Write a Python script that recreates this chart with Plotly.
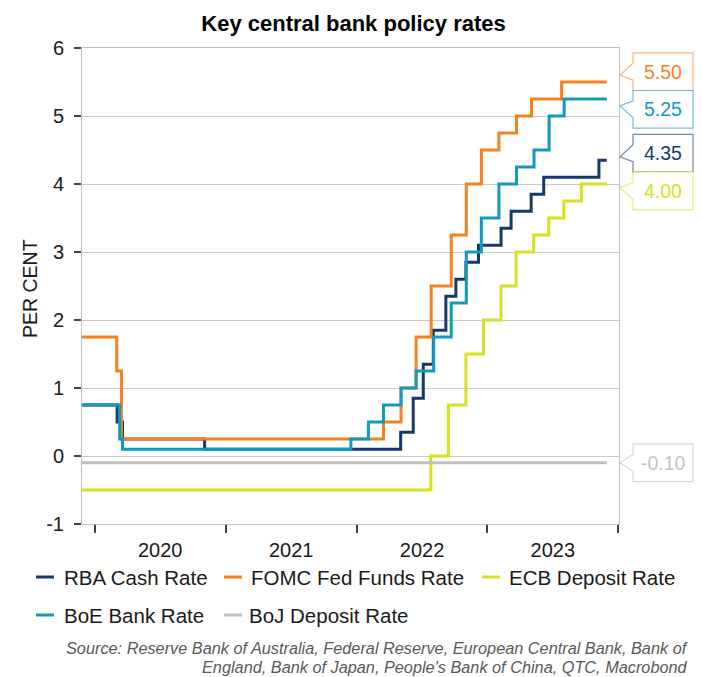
import plotly.graph_objects as go

# ---------------- data ----------------
rba_dates = ['2019-11-27', '2020-03-04', '2020-03-19', '2020-11-03', '2022-05-04', '2022-06-08',
             '2022-07-06', '2022-08-03', '2022-09-07', '2022-10-05', '2022-11-02', '2022-12-07',
             '2023-02-08', '2023-03-08', '2023-05-03', '2023-06-07', '2023-11-08', '2023-11-30']
rba_values = [0.75, 0.50, 0.25, 0.10, 0.35, 0.85, 1.35, 1.85, 2.35, 2.60, 2.85, 3.10,
              3.35, 3.60, 3.85, 4.10, 4.35, 4.35]

fomc_dates = ['2019-11-27', '2020-03-03', '2020-03-16', '2022-03-17', '2022-05-05', '2022-06-16',
              '2022-07-28', '2022-09-22', '2022-11-03', '2022-12-15', '2023-02-02', '2023-03-23',
              '2023-05-04', '2023-07-27', '2023-11-30']
fomc_values = [1.75, 1.25, 0.25, 0.50, 1.00, 1.75, 2.50, 3.25, 4.00, 4.50, 4.75, 5.00, 5.25, 5.50, 5.50]

ecb_dates = ['2019-11-27', '2022-07-27', '2022-09-14', '2022-11-02', '2022-12-21', '2023-02-08',
             '2023-03-22', '2023-05-10', '2023-06-21', '2023-08-02', '2023-09-20', '2023-11-30']
ecb_values = [-0.50, 0.00, 0.75, 1.50, 2.00, 2.50, 3.00, 3.25, 3.50, 3.75, 4.00, 4.00]

boe_dates = ['2019-11-27', '2020-03-11', '2020-03-19', '2021-12-16', '2022-02-03', '2022-03-17',
             '2022-05-05', '2022-06-16', '2022-08-04', '2022-09-22', '2022-11-03', '2022-12-15',
             '2023-02-02', '2023-03-23', '2023-05-11', '2023-06-22', '2023-08-03', '2023-11-30']
boe_values = [0.75, 0.25, 0.10, 0.25, 0.50, 0.75, 1.00, 1.25, 1.75, 2.25, 3.00, 3.50,
              4.00, 4.25, 4.50, 5.00, 5.25, 5.25]

boj_dates = ['2019-11-27', '2023-11-30']
boj_values = [-0.10, -0.10]

series_names = ['RBA Cash Rate', 'FOMC Fed Funds Rate', 'ECB Deposit Rate', 'BoE Bank Rate', 'BoJ Deposit Rate']
year_ticks = ['2020-01-01', '2021-01-01', '2022-01-01', '2023-01-01', '2024-01-01']
y_ticks = [-1, 0, 1, 2, 3, 4, 5, 6]
y_tick_labels = ['-1', '0', '1', '2', '3', '4', '5', '6']

# ---------------- styling ----------------
FONT = 'Liberation Sans, Arial, sans-serif'
colors = {
    'RBA Cash Rate': '#143a6b',
    'FOMC Fed Funds Rate': '#f5821f',
    'ECB Deposit Rate': '#d9e021',
    'BoE Bank Rate': '#1199bf',
    'BoJ Deposit Rate': '#c0c0c0',
}
label_text_colors = dict(colors)
label_text_colors['BoJ Deposit Rate'] = '#c4c4c4'

W, H = 702, 677
L, R, T, B = 82, 619, 48, 524
YMIN, YMAX = -1, 6
XRANGE = ['2019-11-27', '2024-01-03']


def px_x(px):
    return (px - L) / (R - L)


def px_y(py):
    return (B - py) / (B - T)


def val_to_py(v):
    return B - (v - YMIN) / (YMAX - YMIN) * (B - T)


def rgba(hexc, a):
    h = hexc.lstrip('#')
    r, g, b = int(h[0:2], 16), int(h[2:4], 16), int(h[4:6], 16)
    return f'rgba({r},{g},{b},{a})'


data = [
    ('RBA Cash Rate', rba_dates, rba_values),
    ('FOMC Fed Funds Rate', fomc_dates, fomc_values),
    ('ECB Deposit Rate', ecb_dates, ecb_values),
    ('BoE Bank Rate', boe_dates, boe_values),
    ('BoJ Deposit Rate', boj_dates, boj_values),
]

fig = go.Figure()
for name, d, v in data:
    fig.add_trace(go.Scatter(
        x=d, y=v, mode='lines', name=name,
        line=dict(color=colors[name], width=3, shape='hv'),
        showlegend=False, hoverinfo='skip'))

shapes = []
annotations = []

# ---------------- callout labels ----------------
BOX_H = 37.7
gap = BOX_H / (B - T) * (YMAX - YMIN)
items = sorted([(v[-1], name) for name, d, v in data], key=lambda t: -t[0])
pos = [t[0] for t in items]
for _ in range(100):
    for i in range(len(pos) - 1):
        diff = pos[i] - pos[i + 1]
        if diff < gap:
            ov = gap - diff
            pos[i] += ov / 2
            pos[i + 1] -= ov / 2

BX0, BX1, TIPX = 633, 693, 620
NOTCH = 8.5
for (val, name), p in zip(items, pos):
    cy = val_to_py(p)
    vy = val_to_py(val)
    tipy = cy + max(-3.5, min(3.5, vy - cy))
    yt, yb = cy - BOX_H / 2, cy + BOX_H / 2
    pts = [(BX0, yt), (BX1, yt), (BX1, yb), (BX0, yb), (BX0, cy + NOTCH), (TIPX, tipy), (BX0, cy - NOTCH)]
    path = 'M ' + ' L '.join(f'{px_x(x):.5f},{px_y(y):.5f}' for x, y in pts) + ' Z'
    shapes.append(dict(type='path', xref='paper', yref='paper', path=path,
                       fillcolor='white', line=dict(color=rgba(colors[name], 0.6), width=1.2)))
    annotations.append(dict(xref='paper', yref='paper', x=px_x((BX0 + BX1) / 2), y=px_y(cy),
                            text=f'{val:.2f}', showarrow=False, xanchor='center', yanchor='middle',
                            font=dict(family=FONT, size=19.5, color=label_text_colors[name])))

# ---------------- manual legend ----------------
legend_layout = [
    ('RBA Cash Rate', 36, 62, 577),
    ('FOMC Fed Funds Rate', 224, 249, 577),
    ('ECB Deposit Rate', 482, 507, 577),
    ('BoE Bank Rate', 36, 62, 615),
    ('BoJ Deposit Rate', 224, 247, 615),
]
for name, sx, tx, ly in legend_layout:
    shapes.append(dict(type='line', xref='paper', yref='paper',
                       x0=px_x(sx), x1=px_x(sx + 18), y0=px_y(ly), y1=px_y(ly),
                       line=dict(color=colors[name], width=3)))
    annotations.append(dict(xref='paper', yref='paper', x=px_x(tx), y=px_y(ly), text=name,
                            showarrow=False, xanchor='left', yanchor='middle',
                            font=dict(family=FONT, size=20.5, color='#1a1a1a')))

# y-axis title
annotations.append(dict(xref='paper', yref='paper', x=px_x(30), y=px_y(289), text='PER CENT',
                        textangle=-90, showarrow=False, xanchor='center', yanchor='middle',
                        font=dict(family=FONT, size=19.5, color='#1a1a1a')))

# source
annotations.append(dict(xref='paper', yref='paper', x=px_x(689), y=px_y(648),
                        text='<i>Source: Reserve Bank of Australia, Federal Reserve, European Central Bank, Bank of</i>',
                        showarrow=False, xanchor='right', yanchor='middle', borderpad=0,
                        font=dict(family=FONT, size=16.3, color='#595959')))
annotations.append(dict(xref='paper', yref='paper', x=px_x(689), y=px_y(666.8),
                        text="<i>England, Bank of Japan, People's Bank of China, QTC, Macrobond</i>",
                        showarrow=False, xanchor='right', yanchor='middle', borderpad=0,
                        font=dict(family=FONT, size=16.3, color='#595959')))

fig.update_layout(
    width=W, height=H,
    margin=dict(l=L, r=W - R, t=T, b=H - B),
    paper_bgcolor='white', plot_bgcolor='white',
    font=dict(family=FONT, color='#1a1a1a'),
    title=dict(text='<b>Key central bank policy rates</b>', x=353.5 / W, xref='container',
               xanchor='center', y=1 - 23 / H, yanchor='middle',
               font=dict(family=FONT, size=22, color='#000000')),
    shapes=shapes,
    annotations=annotations,
    showlegend=False,
)

fig.update_xaxes(
    type='date', range=XRANGE,
    ticklabelmode='period', tickformat='%Y',
    dtick='M12', tick0=year_ticks[0], tickmode='linear',
    ticks='outside', ticklen=8, tickwidth=1.5, tickcolor='#404040',
    showline=True, linecolor='#c0c0c0', linewidth=1, mirror=True,
    showgrid=False, zeroline=False,
    tickfont=dict(family=FONT, size=20, color='#1a1a1a'),
)
fig.update_yaxes(
    range=[YMIN, YMAX], tickmode='array', tickvals=y_ticks, ticktext=y_tick_labels,
    ticks='outside', ticklen=7, tickwidth=1.5, tickcolor='#404040',
    ticklabelstandoff=6,
    showline=True, linecolor='#c0c0c0', linewidth=1, mirror=True,
    showgrid=True, gridcolor='#c8c8c8', gridwidth=1, zeroline=False,
    tickfont=dict(family=FONT, size=20, color='#1a1a1a'),
)

fig.write_html('out.html')
